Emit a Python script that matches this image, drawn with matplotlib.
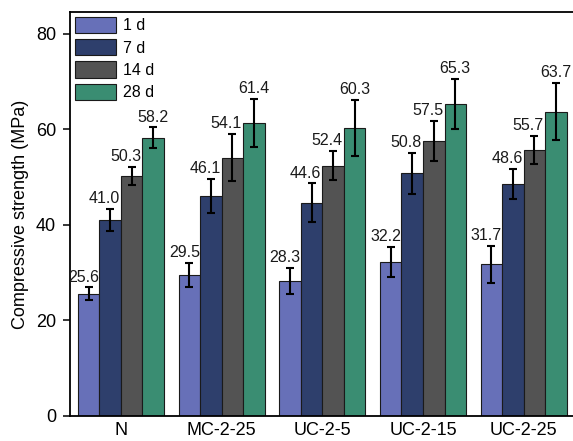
import matplotlib.pyplot as plt
import numpy as np

plt.rcParams['font.family'] = ['Liberation Sans', 'DejaVu Sans']

groups = ['N', 'MC-2-25', 'UC-2-5', 'UC-2-15', 'UC-2-25']
ages = ['1 d', '7 d', '14 d', '28 d']

strength_1d = [25.6, 29.5, 28.3, 32.2, 31.7]
strength_7d = [41.0, 46.1, 44.6, 50.8, 48.6]
strength_14d = [50.3, 54.1, 52.4, 57.5, 55.7]
strength_28d = [58.2, 61.4, 60.3, 65.3, 63.7]

err_1d = [1.3, 2.5, 2.7, 3.2, 3.9]
err_7d = [2.3, 3.6, 4.1, 4.3, 3.1]
err_14d = [1.9, 5.0, 3.1, 4.2, 2.9]
err_28d = [2.2, 5.0, 5.8, 5.2, 6.0]

colours = ['#6770b8', '#2e3f6c', '#535353', '#3a8d72']

series = [strength_1d, strength_7d, strength_14d, strength_28d]
errors = [err_1d, err_7d, err_14d, err_28d]

fig = plt.figure(figsize=(5.73, 4.41), dpi=100)
ax = fig.add_axes([0.122, 0.057, 0.878, 0.916])

x = np.arange(len(groups))
width = 0.214
# labels of the first three ages sit a bit to the left of their bar
label_shift = [-0.05, -0.06, -0.06, 0.0]

for i, (vals, errs) in enumerate(zip(series, errors)):
    pos = x + (i - 1.5) * width
    ax.bar(pos, vals, width, color=colours[i], edgecolor='#1a1a1a',
           linewidth=0.8, label=ages[i], zorder=2)
    ax.errorbar(pos, vals, yerr=errs, fmt='none', ecolor='black',
                elinewidth=1.5, capsize=2.6, capthick=1.5, zorder=3)
    for p, v, e in zip(pos, vals, errs):
        ax.annotate(f'{v:.1f}', (p + label_shift[i], v + e),
                    xytext=(0, 2), textcoords='offset points',
                    ha='center', va='bottom', fontsize=11.5, color='#1a1a1a')

ax.set_xlim(-0.507, 4.49)
ax.set_ylim(0, 84.6)
ax.set_yticks([0, 20, 40, 60, 80])
ax.set_xticks(x)
ax.set_xticklabels(groups, fontsize=13)
ax.tick_params(axis='x', length=0, pad=4.5)
ax.tick_params(axis='y', direction='out', length=5, width=1.1, pad=5,
               labelsize=13)
ax.set_ylabel('Compressive strength (MPa)', fontsize=13, labelpad=5)

ax.spines['right'].set_visible(False)
for s in ['left', 'bottom', 'top']:
    ax.spines[s].set_linewidth(1.3)

ax.legend(loc='upper left', frameon=False, fontsize=11.5, handlelength=2.6,
          handleheight=1.2, labelspacing=0.36, handletextpad=0.4,
          borderpad=0.15, borderaxespad=0.15)

fig.savefig('out.png', dpi=100)
